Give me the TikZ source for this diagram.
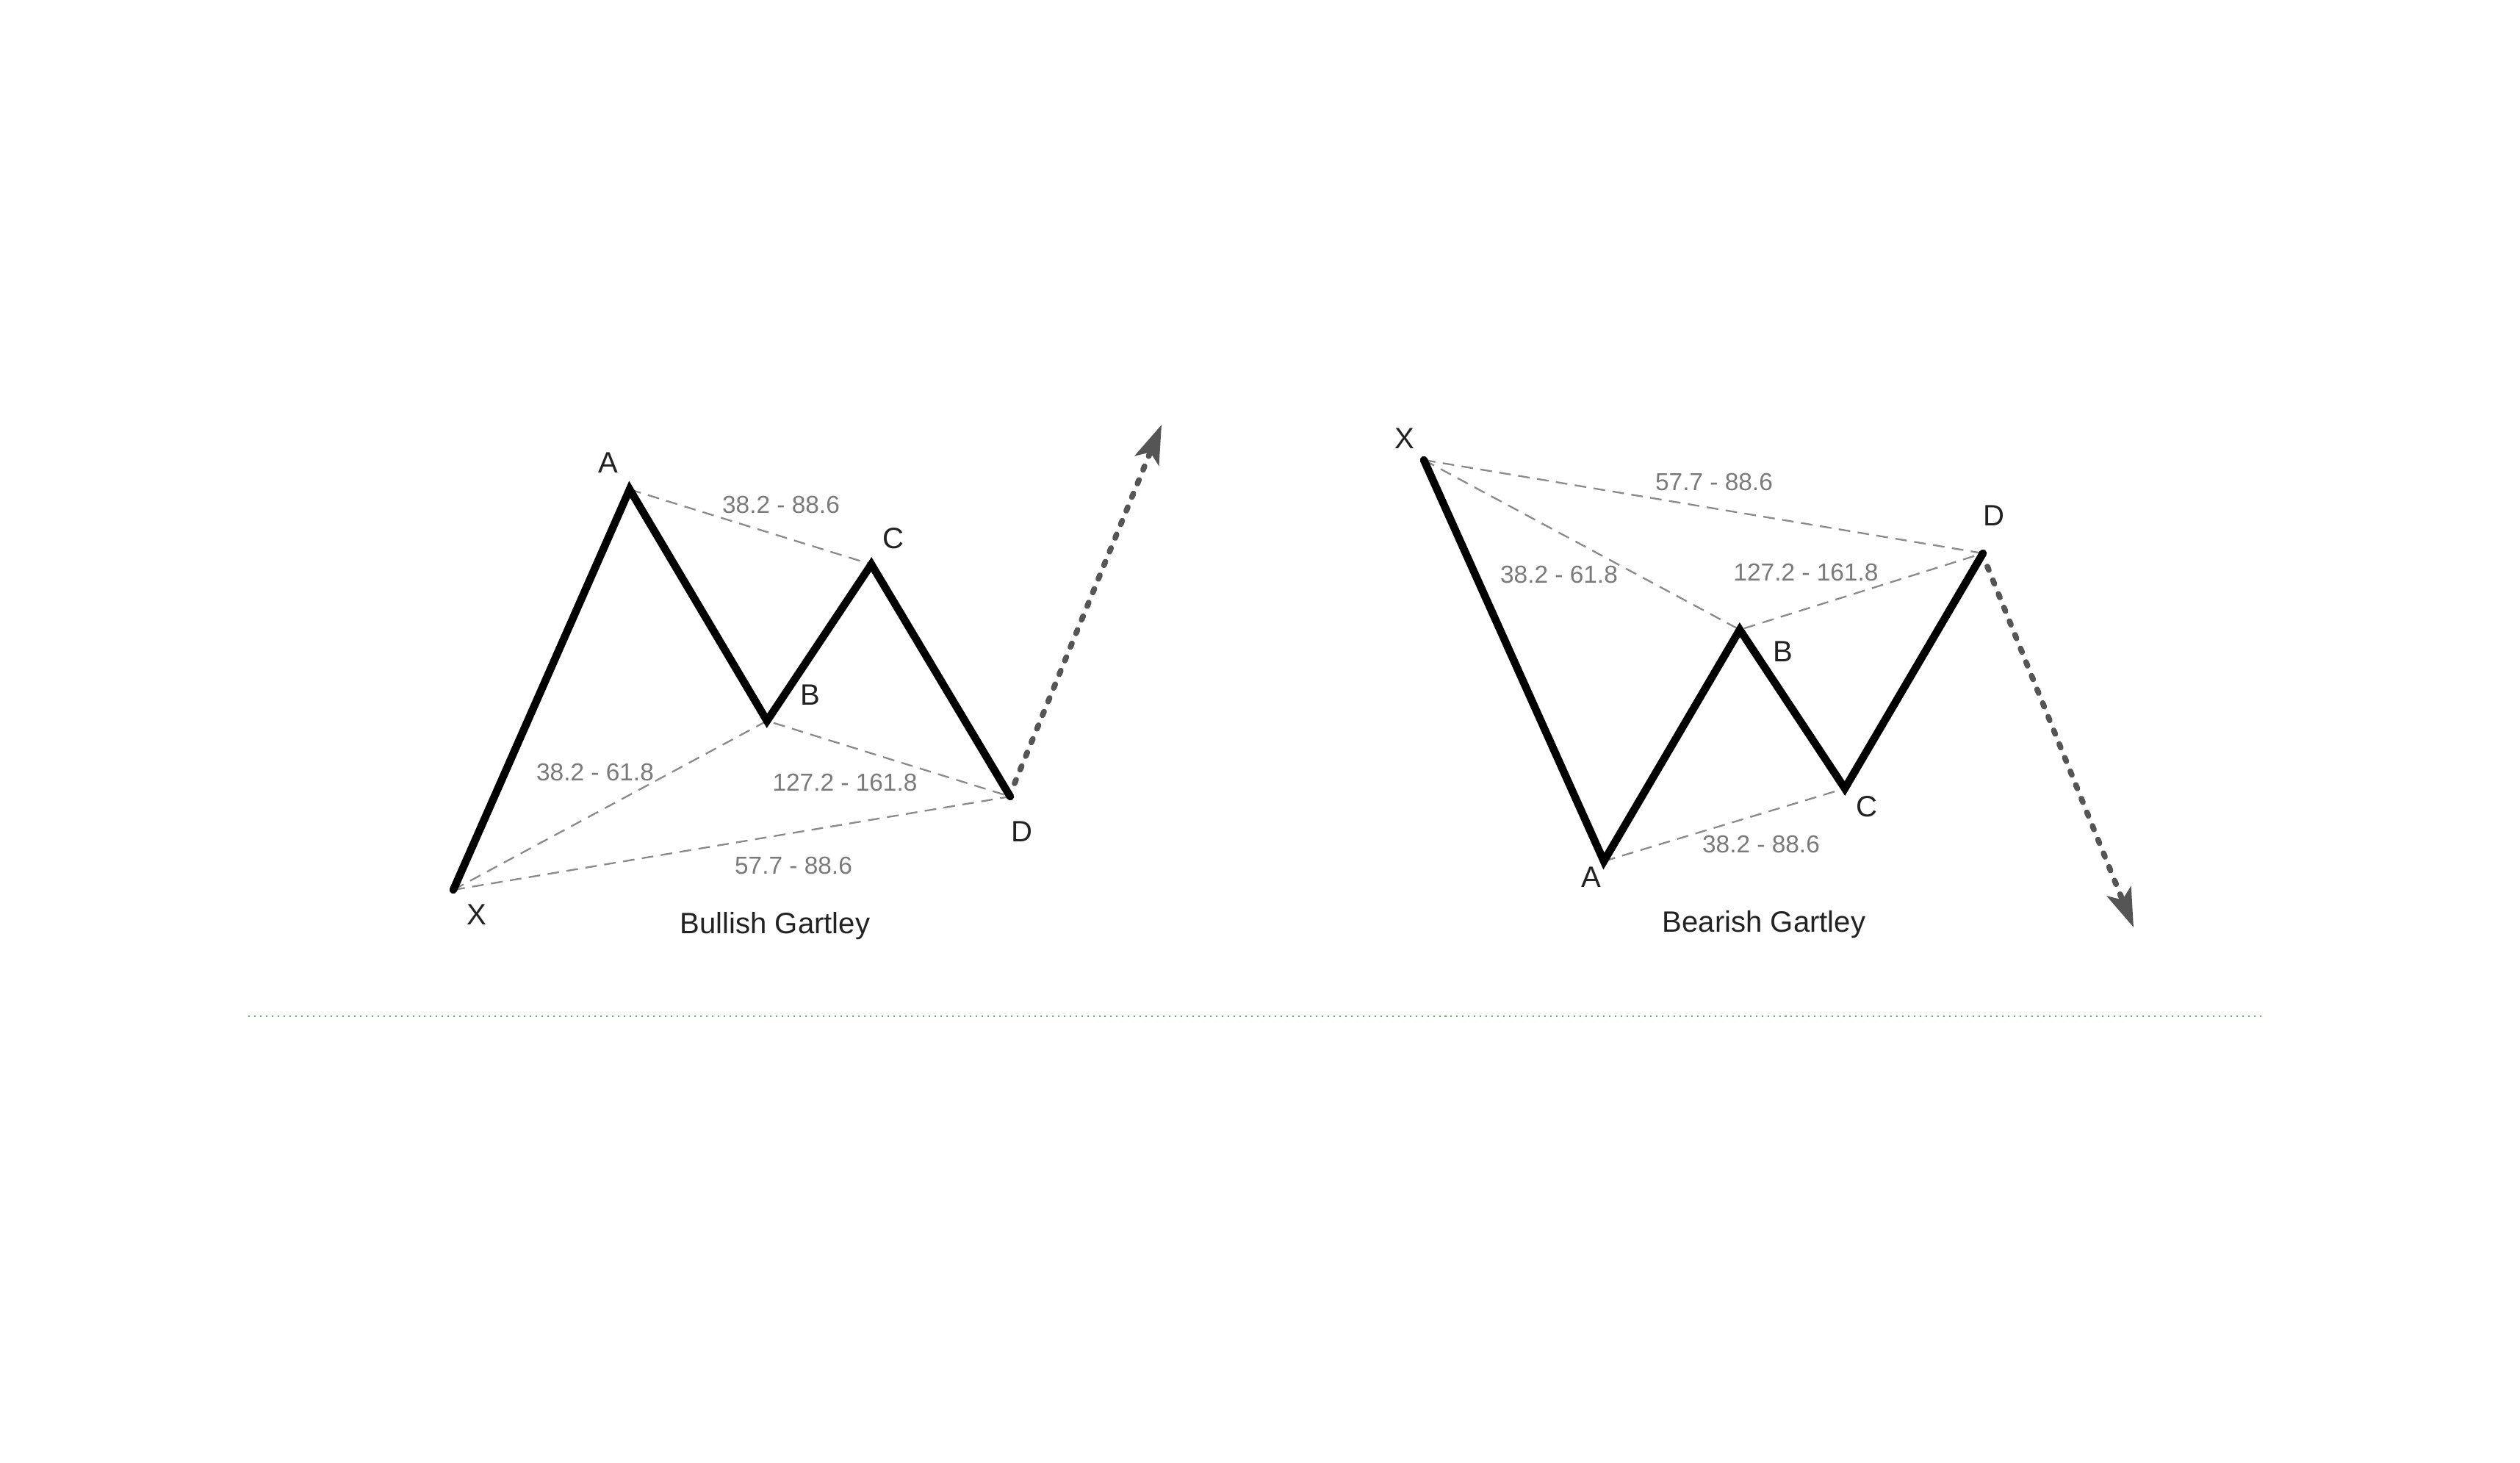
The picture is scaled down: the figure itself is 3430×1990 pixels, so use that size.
\documentclass[tikz,border=0pt]{standalone}
\usepackage{fontspec}
\setmainfont{Liberation Sans}
\usetikzlibrary{arrows.meta}
\definecolor{ratiogray}{HTML}{7A7A7A}
\definecolor{dashgray}{HTML}{8A8A8A}
\definecolor{arrowgray}{HTML}{555555}
\definecolor{dotgreen}{HTML}{5CB85C}
\definecolor{titlecol}{HTML}{222222}
\tikzset{
  leg/.style={line width=3pt, black, line join=miter, line cap=round},
  ratioline/.style={line width=0.65pt, dashgray, dash pattern=on 4.5pt off 2.9pt},
  projarrow/.style={line width=2.2pt, arrowgray, line cap=round, dash pattern=on 1.5pt off 4.2pt,
    -{Stealth[length=15pt,width=10pt,inset=3.5pt]}},
  ptlabel/.style={inner sep=0pt, anchor=base, font=\fontsize{11.4pt}{13pt}\selectfont, titlecol},
  ratiolabel/.style={inner sep=0pt, anchor=base, font=\fontsize{9.5pt}{11pt}\selectfont, ratiogray},
  titlelabel/.style={inner sep=0pt, anchor=base, font=\fontsize{11.4pt}{13pt}\selectfont, titlecol},
  sepline/.style={line width=0.57pt, dotgreen, dash pattern=on 0.57pt off 1.7pt}
}
\begin{document}
\begin{tikzpicture}[x=0.01cm, y=-0.01cm]
\useasboundingbox (0,0) rectangle (3430,1990);
\fill[white] (0,0) rectangle (3430,1990);

% ---------- Bullish Gartley ----------
\coordinate (lX) at (617,1211);
\coordinate (lA) at (857,666);
\coordinate (lB) at (1044,981);
\coordinate (lC) at (1186,768);
\coordinate (lD) at (1375,1084);
\coordinate (lS) at (1381,1066);
\coordinate (lT) at (1581,578);

\draw[ratioline] (lA) -- (lC);
\draw[ratioline] (lX) -- (lB) -- (lD);
\draw[ratioline] (lX) -- (lD);
\draw[leg] (lX) -- (lA) -- (lB) -- (lC) -- (lD);
\draw[projarrow] (lS) -- (lT);

\node[ptlabel] (lXl) at (649,1258) {X};
\node[ptlabel] (lAl) at (828,643) {A};
\node[ptlabel] (lBl) at (1103,959) {B};
\node[ptlabel] (lCl) at (1216,746) {C};
\node[ptlabel] (lDl) at (1391,1145) {D};

\node[ratiolabel] (lr1) at (1063,698) {38.2 - 88.6};
\node[ratiolabel] (lr2) at (810,1062) {38.2 - 61.8};
\node[ratiolabel] (lr3) at (1150,1076) {127.2 - 161.8};
\node[ratiolabel] (lr4) at (1080,1189) {57.7 - 88.6};
\node[titlelabel] (ltitle) at (1055,1270) {Bullish Gartley};

% ---------- Bearish Gartley ----------
\coordinate (rX) at (1938,626);
\coordinate (rA) at (2183,1172);
\coordinate (rB) at (2368,857);
\coordinate (rC) at (2511,1073);
\coordinate (rD) at (2699,753);
\coordinate (rS) at (2705,771);
\coordinate (rT) at (2904,1262);

\draw[ratioline] (rX) -- (rD);
\draw[ratioline] (rX) -- (rB) -- (rD);
\draw[ratioline] (rA) -- (rC);
\draw[leg] (rX) -- (rA) -- (rB) -- (rC) -- (rD);
\draw[projarrow] (rS) -- (rT);

\node[ptlabel] (rXl) at (1912,610) {X};
\node[ptlabel] (rAl) at (2166,1207) {A};
\node[ptlabel] (rBl) at (2427,900) {B};
\node[ptlabel] (rCl) at (2541,1111) {C};
\node[ptlabel] (rDl) at (2714,715) {D};

\node[ratiolabel] (rr1) at (2333,667) {57.7 - 88.6};
\node[ratiolabel] (rr2) at (2122,793) {38.2 - 61.8};
\node[ratiolabel] (rr3) at (2458,790) {127.2 - 161.8};
\node[ratiolabel] (rr4) at (2397,1160) {38.2 - 88.6};
\node[titlelabel] (rtitle) at (2401,1268) {Bearish Gartley};

% ---------- separator ----------
\coordinate (sepL) at (338,1383);
\coordinate (sepR) at (3084,1383);
\draw[sepline] (sepL) -- (sepR);
\end{tikzpicture}
\end{document}
